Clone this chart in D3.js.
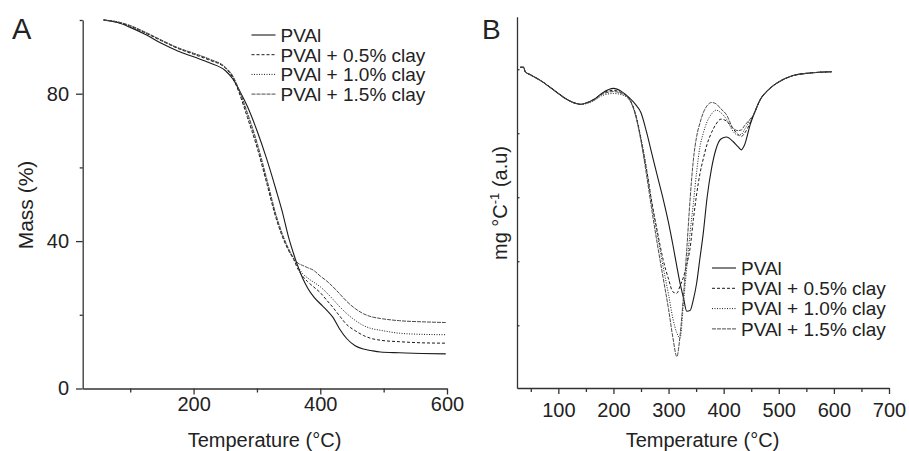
<!DOCTYPE html>
<html>
<head>
<meta charset="utf-8">
<script src="https://cdn.jsdelivr.net/npm/d3@7"></script>
<style>
  body { margin: 0; background: #fff; }
  svg { display: block; font-family: "Liberation Sans", Arial, sans-serif; }
  .axis path, .axis line { stroke: #333; stroke-width: 1.3; }
  .axis text { fill: #222; font-size: 20px; font-family: "Liberation Sans", Arial, sans-serif; }
</style>
</head>
<body>
<svg width="909" height="451"></svg>
<script>
// series names, shared by both panels
var seriesNames = ["PVAl", "PVAl + 0.5% clay", "PVAl + 1.0% clay", "PVAl + 1.5% clay"];

// panel A: TGA, mass (%) vs temperature (°C)
var tgaTemp = [58, 80, 100, 125, 150, 175, 200, 225, 250, 262, 272, 285, 300, 315, 330, 340, 350, 358, 365, 372,
               380, 390, 400, 410, 420, 430, 442, 455, 468, 480, 495, 525, 560, 598];
var tgaPVAl = [100, 99.3, 98.0, 96.0, 93.6, 91.6, 90.0, 88.4, 86.3, 84.0, 81.0, 76.5, 70.0, 62.5, 54.0, 48.0, 41.0, 36.5, 33.0, 30.0,
               27.3, 24.8, 23.0, 21.3, 19.3, 16.3, 13.5, 11.6, 10.7, 10.3, 9.9, 9.7, 9.5, 9.4];
var tgaClay05 = [100, 99.4, 98.3, 96.4, 94.3, 92.3, 90.7, 89.1, 87.0, 84.3, 80.2, 73.5, 65.5, 56.0, 46.3, 41.3, 37.4, 35.0, 32.3, 30.5,
                 29.0, 27.5, 26.0, 24.0, 22.0, 19.8, 17.3, 15.7, 14.4, 13.6, 13.1, 12.7, 12.4, 12.3];
var tgaClay10 = [100, 99.5, 98.4, 96.5, 94.4, 92.4, 90.9, 89.3, 87.1, 84.6, 80.6, 74.2, 66.2, 56.6, 46.8, 41.6, 37.6, 35.2, 33.0, 31.2,
                 30.0, 28.8, 27.6, 26.0, 24.2, 22.3, 20.3, 18.5, 17.1, 16.3, 15.8, 15.0, 14.7, 14.6];
var tgaClay15 = [100, 99.5, 98.5, 96.6, 94.5, 92.5, 91.0, 89.4, 87.2, 84.8, 81.0, 74.8, 66.8, 57.2, 47.2, 42.0, 37.9, 35.4, 34.0, 33.4,
                 32.8, 32.0, 30.5, 29.2, 27.6, 25.8, 23.6, 21.7, 20.3, 19.5, 19.0, 18.4, 18.1, 17.9];
var tgaXTicks = [200, 400, 600], tgaXMinor = [100, 300, 500];
var tgaYTicks = [0, 40, 80], tgaYMinor = [20, 60, 100];

// panel B: DTG, mg °C-1 (arbitrary units) vs temperature (°C)
var dtgTemp = [31, 37, 40, 50, 70, 94, 115, 130, 140, 150, 165, 180, 200, 215, 228, 240, 250, 260, 270, 280,
               290, 300, 308, 315, 321, 327, 333, 339, 345, 351, 357, 363, 370, 378, 386, 395, 405, 417, 426, 432,
               438, 448, 455, 466, 480, 496, 526, 556, 596];
var dtgPVAl = [0.03, 0.03, -0.04, -0.09, -0.19, -0.34, -0.47, -0.53, -0.55, -0.53, -0.47, -0.37, -0.30, -0.35, -0.44, -0.55, -0.68, -0.98, -1.33, -1.68,
               -2.02, -2.40, -2.75, -3.08, -3.35, -3.57, -3.78, -3.77, -3.60, -3.34, -2.95, -2.56, -2.00, -1.55, -1.25, -1.09, -1.06, -1.13, -1.21, -1.26,
               -1.18, -0.87, -0.70, -0.48, -0.33, -0.22, -0.10, -0.06, -0.04];
var dtgClay05 = [0.03, 0.03, -0.04, -0.09, -0.19, -0.34, -0.47, -0.53, -0.55, -0.53, -0.47, -0.38, -0.33, -0.37, -0.45, -0.70, -1.10, -1.57, -2.10, -2.55,
                 -2.97, -3.28, -3.48, -3.50, -3.38, -3.25, -3.05, -2.80, -2.35, -1.95, -1.63, -1.40, -1.17, -0.99, -0.86, -0.78, -0.81, -0.93, -1.02, -1.05,
                 -1.00, -0.84, -0.70, -0.48, -0.33, -0.22, -0.10, -0.06, -0.04];
var dtgClay10 = [0.03, 0.03, -0.04, -0.09, -0.19, -0.34, -0.47, -0.53, -0.55, -0.54, -0.49, -0.41, -0.38, -0.40, -0.47, -0.70, -1.08, -1.55, -2.10, -2.60,
                 -3.08, -3.52, -3.90, -4.12, -4.20, -3.65, -3.10, -2.56, -2.10, -1.60, -1.21, -1.00, -0.82, -0.70, -0.64, -0.68, -0.78, -0.97, -1.03, -1.02,
                 -0.94, -0.80, -0.70, -0.48, -0.33, -0.22, -0.10, -0.06, -0.04];
var dtgClay15 = [0.03, 0.03, -0.04, -0.09, -0.19, -0.34, -0.47, -0.53, -0.55, -0.53, -0.48, -0.39, -0.35, -0.38, -0.46, -0.72, -1.12, -1.65, -2.22, -2.75,
                 -3.25, -3.75, -4.20, -4.49, -4.15, -3.55, -2.82, -2.04, -1.42, -1.05, -0.84, -0.68, -0.57, -0.52, -0.54, -0.62, -0.71, -0.92, -0.96, -0.95,
                 -0.88, -0.78, -0.70, -0.48, -0.33, -0.22, -0.10, -0.06, -0.04];
var dtgXTicks = [100, 200, 300, 400, 500, 600, 700], dtgXMinor = [50, 150, 250, 350, 450, 550, 650];
var dtgYTicks = [-4, -3, -2, -1, 0];

// line look for each series, in the same order as seriesNames
var lineStyles = [
  { dash: null,    color: "#1a1a1a", width: 1.1 },
  { dash: "3,2",   color: "#1a1a1a", width: 1.0 },
  { dash: "1,1.5", color: "#1a1a1a", width: 1.0 },
  { dash: "4,1",   color: "#4a4a4a", width: 1.0 }
];

var svg = d3.select("svg");
svg.append("rect").attr("width", 909).attr("height", 451).attr("fill", "#fff");

function zip(xs, ys) {
  return xs.map(function(t, i) { return { t: t, v: ys[i] }; });
}

function drawLines(g, x, y, xs, seriesList) {
  var line = d3.line()
      .x(function(d) { return x(d.t); })
      .y(function(d) { return y(d.v); })
      .curve(d3.curveMonotoneX);
  seriesList.forEach(function(vals, i) {
    var s = lineStyles[i];
    g.append("path")
      .datum(zip(xs, vals))
      .attr("fill", "none")
      .attr("stroke", s.color)
      .attr("stroke-width", s.width)
      .attr("stroke-dasharray", s.dash)
      .attr("d", line);
  });
}

function drawLegend(g, x0, y0, step) {
  seriesNames.forEach(function(name, i) {
    var s = lineStyles[i], cy = y0 + i * step;
    g.append("line")
      .attr("x1", x0).attr("x2", x0 + 24)
      .attr("y1", cy).attr("y2", cy)
      .attr("stroke", s.color)
      .attr("stroke-width", s.width)
      .attr("stroke-dasharray", s.dash);
    g.append("text")
      .attr("x", x0 + 29).attr("y", cy + 6.8)
      .attr("font-size", 19).attr("fill", "#222")
      .text(name);
  });
}

// ---------- panel A ----------
var xA = d3.scaleLinear().domain([25, 600]).range([82.7, 447]);
var yA = d3.scaleLinear().domain([0, 100]).range([388.5, 20]);
var gA = svg.append("g");

gA.append("g").attr("class", "axis").attr("transform", "translate(0,388.5)")
  .call(d3.axisBottom(xA).tickValues(tgaXTicks).tickSize(6).tickSizeOuter(0).tickPadding(2.3));
gA.append("g").attr("class", "axis").attr("transform", "translate(0,388.5)")
  .call(d3.axisBottom(xA).tickValues(tgaXMinor).tickSize(4).tickFormat(""))
  .select(".domain").remove();
gA.append("g").attr("class", "axis").attr("transform", "translate(82.7,0)")
  .call(d3.axisLeft(yA).tickValues(tgaYTicks).tickSize(6.7).tickSizeOuter(0).tickPadding(7));
gA.append("g").attr("class", "axis").attr("transform", "translate(82.7,0)")
  .call(d3.axisLeft(yA).tickValues(tgaYMinor).tickSize(3).tickFormat(""))
  .select(".domain").remove();

drawLines(gA, xA, yA, tgaTemp, [tgaPVAl, tgaClay05, tgaClay10, tgaClay15]);
drawLegend(gA, 251.5, 35, 19.7);

gA.append("text").attr("x", 12).attr("y", 39).attr("font-size", 29).attr("fill", "#222").text("A");
gA.append("text").attr("x", 264.5).attr("y", 447).attr("text-anchor", "middle")
  .attr("font-size", 20).attr("fill", "#222").text("Temperature (°C)");
gA.append("text").attr("transform", "translate(33,205) rotate(-90)").attr("text-anchor", "middle")
  .attr("font-size", 21).attr("fill", "#222").text("Mass (%)");

// ---------- panel B ----------
var xB = d3.scaleLinear().domain([25, 700]).range([517, 889]);
var yB = d3.scaleLinear().domain([-4.98, 0.82]).range([388, 16.7]);
var gB = svg.append("g");

gB.append("g").attr("class", "axis").attr("transform", "translate(0,388)")
  .call(d3.axisBottom(xB).tickValues(dtgXTicks).tickSize(6).tickSizeOuter(0).tickPadding(8.8));
gB.append("g").attr("class", "axis").attr("transform", "translate(0,388)")
  .call(d3.axisBottom(xB).tickValues(dtgXMinor).tickSize(4).tickFormat(""))
  .select(".domain").remove();
gB.append("g").attr("class", "axis").attr("transform", "translate(517,0)")
  .call(d3.axisLeft(yB).tickValues(dtgYTicks).tickSize(-2.5).tickSizeOuter(0).tickFormat(""));

drawLines(gB, xB, yB, dtgTemp, [dtgPVAl, dtgClay05, dtgClay10, dtgClay15]);
drawLegend(gB, 712, 268, 20.3);

gB.append("text").attr("x", 482).attr("y", 38.5).attr("font-size", 28).attr("fill", "#222").text("B");
gB.append("text").attr("x", 702.5).attr("y", 447).attr("text-anchor", "middle")
  .attr("font-size", 20).attr("fill", "#222").text("Temperature (°C)");
var yLabB = gB.append("text").attr("transform", "translate(506.5,203) rotate(-90)").attr("text-anchor", "middle")
  .attr("font-size", 20).attr("fill", "#222");
yLabB.append("tspan").text("mg °C");
yLabB.append("tspan").attr("dy", -8).attr("font-size", 13).text("-1");
yLabB.append("tspan").attr("dy", 8).text(" (a.u)");
</script>
</body>
</html>
